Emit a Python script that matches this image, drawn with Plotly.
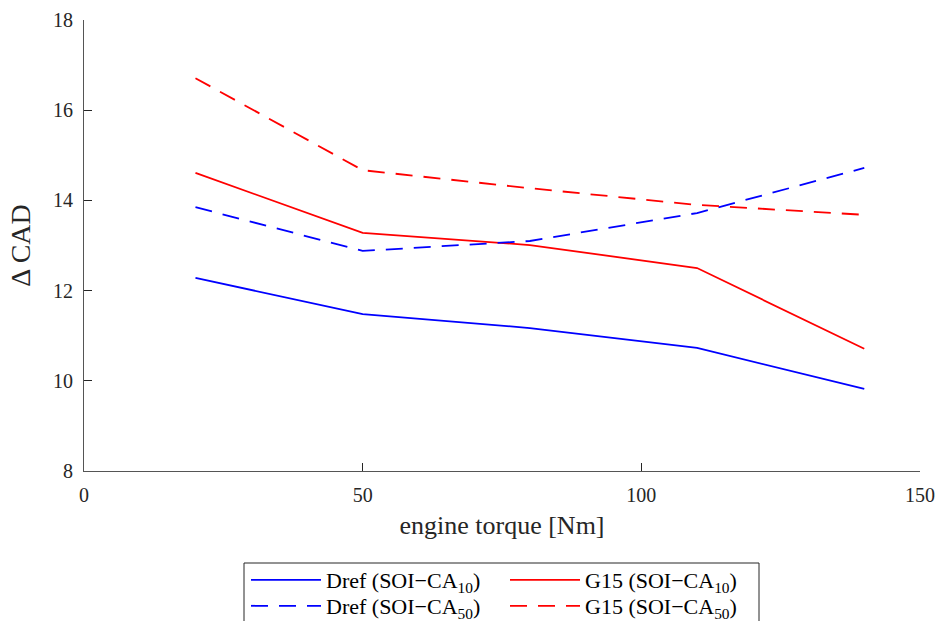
import plotly.graph_objects as go

torque = [20, 50, 80, 110, 140]
dref_ca10 = [12.28, 11.48, 11.17, 10.73, 9.82]
g15_ca10 = [14.61, 13.28, 13.01, 12.50, 10.71]
dref_ca50 = [13.85, 12.88, 13.10, 13.72, 14.72]
g15_ca50 = [16.71, 14.67, 14.27, 13.90, 13.68]

x_ticks = [0, 50, 100, 150]
y_ticks = [8, 10, 12, 14, 16, 18]

FONT = "Liberation Serif"
AX = "#262626"

L, R, T, B = 84, 20, 20, 150
PW, PH = 940 - L - R, 621 - T - B


def px_x(p):
    return (p - L) / PW


def px_y(p):
    return (621 - B - p) / PH


fig = go.Figure()
# (name, values, colour, dash, legend id, column-left px, row-top px)
series = [
    ("Dref (SOI\u2212CA<sub>10</sub>)", dref_ca10, "#0000ff", "solid", "legend", 246, 559),
    ("G15 (SOI\u2212CA<sub>10</sub>)", g15_ca10, "#ff0000", "solid", "legend2", 505, 559),
    ("Dref (SOI\u2212CA<sub>50</sub>)", dref_ca50, "#0000ff", "dash", "legend3", 246, 585),
    ("G15 (SOI\u2212CA<sub>50</sub>)", g15_ca50, "#ff0000", "dash", "legend4", 505, 585),
]
legends = {}
for name, ys, col, dash, lg, lx, ly in series:
    fig.add_trace(go.Scatter(x=torque, y=ys, mode="lines", name=name, legend=lg,
                             line=dict(color=col, width=1.8,
                                       dash="17px,11px" if dash == "dash" else "solid")))
    legends[lg] = dict(orientation="v", yanchor="top", xanchor="left",
                       x=px_x(lx), y=px_y(ly),
                       bgcolor="rgba(0,0,0,0)", borderwidth=0, itemwidth=70,
                       font=dict(family=FONT, size=22, color="black"))

fig.update_layout(
    width=940, height=621,
    margin=dict(l=L, r=R, t=T, b=B, autoexpand=False),
    plot_bgcolor="white", paper_bgcolor="white",
    font=dict(family=FONT, size=20, color=AX),
    showlegend=True,
    shapes=[dict(type="rect", xref="paper", yref="paper",
                 x0=px_x(244), x1=px_x(759), y0=px_y(563), y1=px_y(630),
                 line=dict(color=AX, width=1), fillcolor="rgba(0,0,0,0)", layer="above")],
    xaxis=dict(range=[0, 150], tickvals=x_ticks, showgrid=False, zeroline=False,
               showline=True, linecolor="#555555", linewidth=1, ticks="inside", ticklen=8,
               tickcolor=AX, ticklabelstandoff=6,
               title=dict(text="engine torque [Nm]", font=dict(size=26), standoff=10),
               tickfont=dict(size=20)),
    yaxis=dict(range=[8, 18], tickvals=y_ticks, showgrid=False, zeroline=False,
               showline=True, linecolor="#555555", linewidth=1, ticks="inside", ticklen=8,
               tickcolor=AX, ticklabelstandoff=6,
               title=dict(text="\u0394 CAD", font=dict(size=28), standoff=14),
               tickfont=dict(size=20)),
)
fig.update_layout(**legends)

fig.write_html("out.html")
